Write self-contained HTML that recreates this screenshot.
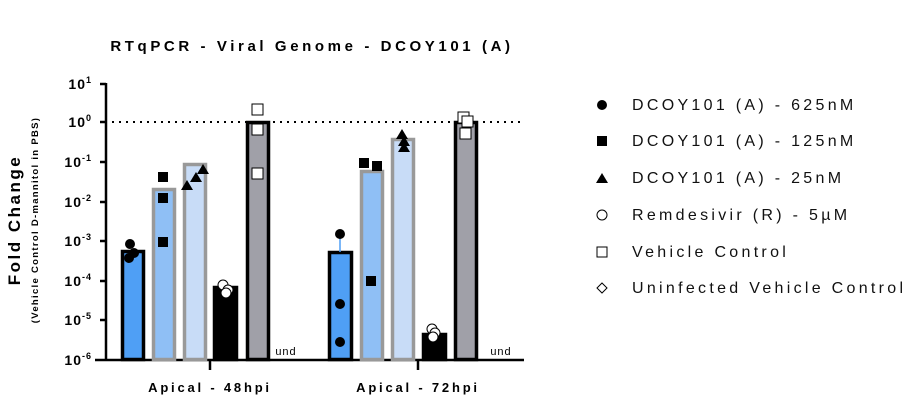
<!DOCTYPE html>
<html><head><meta charset="utf-8"><style>body{margin:0;background:#fff}svg{display:block}</style></head><body>
<svg width="913" height="404" viewBox="0 0 913 404" xmlns="http://www.w3.org/2000/svg" font-family="Liberation Sans, Arial, sans-serif">
<rect width="913" height="404" fill="#fff"/>
<text x="312" y="51" text-anchor="middle" font-size="15" font-weight="bold" letter-spacing="3.6">RTqPCR - Viral Genome - DCOY101 (A)</text>
<text transform="translate(20,220) rotate(-90)" text-anchor="middle" font-size="17" font-weight="bold" letter-spacing="2.5">Fold Change</text>
<text transform="translate(38,220) rotate(-90)" text-anchor="middle" font-size="9.5" font-weight="bold" letter-spacing="1.3">(Vehicle Control D-mannitol in PBS)</text>
<g font-size="14" font-weight="bold" text-anchor="end" letter-spacing="1">
<text x="92" y="89">10<tspan dy="-6" font-size="9">1</tspan></text>
<text x="92" y="127">10<tspan dy="-6" font-size="9">0</tspan></text>
<text x="92" y="167">10<tspan dy="-6" font-size="9">-1</tspan></text>
<text x="92" y="207">10<tspan dy="-6" font-size="9">-2</tspan></text>
<text x="92" y="246">10<tspan dy="-6" font-size="9">-3</tspan></text>
<text x="92" y="286">10<tspan dy="-6" font-size="9">-4</tspan></text>
<text x="92" y="325">10<tspan dy="-6" font-size="9">-5</tspan></text>
<text x="92" y="365">10<tspan dy="-6" font-size="9">-6</tspan></text>
</g>
<g stroke="#000" stroke-width="2.5">
<line x1="106" y1="83" x2="106" y2="361"/>
<line x1="95" y1="360" x2="524" y2="360"/>
<line x1="100" y1="84" x2="106" y2="84"/><line x1="100" y1="122" x2="106" y2="122"/><line x1="100" y1="162" x2="106" y2="162"/><line x1="100" y1="202" x2="106" y2="202"/><line x1="100" y1="241" x2="106" y2="241"/><line x1="100" y1="281" x2="106" y2="281"/><line x1="100" y1="320" x2="106" y2="320"/>
<line x1="210" y1="360" x2="210" y2="370"/><line x1="418" y1="360" x2="418" y2="370"/>
</g>
<line x1="112" y1="122" x2="524" y2="122" stroke="#000" stroke-width="2" stroke-dasharray="2,5"/>
<g stroke-width="3.5">
<rect x="122.5" y="251.5" width="21" height="108" fill="#4f9ff5" stroke="#000"/>
<rect x="153.5" y="189.5" width="21" height="170" fill="#8fbff5" stroke="#999"/>
<rect x="184.5" y="164.5" width="21" height="195" fill="#c8dcf7" stroke="#999"/>
<rect x="214.5" y="287.5" width="22" height="72" fill="#000" stroke="#000"/>
<rect x="247.5" y="122.5" width="21" height="237" fill="#a0a0a8" stroke="#000"/>
<rect x="329.5" y="252.5" width="22" height="107" fill="#4f9ff5" stroke="#000"/>
<rect x="361.5" y="171.5" width="21" height="188" fill="#8fbff5" stroke="#999"/>
<rect x="392.5" y="139.5" width="21" height="220" fill="#c8dcf7" stroke="#999"/>
<rect x="423.5" y="334.5" width="22" height="25" fill="#000" stroke="#000"/>
<rect x="455.5" y="122.5" width="21" height="237" fill="#a0a0a8" stroke="#000"/>
</g>
<line x1="340" y1="238" x2="340" y2="252" stroke="#4f9ff5" stroke-width="1.5"/>
<text x="286" y="355" text-anchor="middle" font-size="11" letter-spacing="1">und</text>
<text x="501" y="355" text-anchor="middle" font-size="11" letter-spacing="1">und</text>
<g fill="#000">
<circle cx="130" cy="244" r="5"/><circle cx="134" cy="253" r="5"/><circle cx="129" cy="258" r="5"/>
<circle cx="340" cy="234" r="5"/><circle cx="340" cy="304" r="5"/><circle cx="340" cy="342" r="5"/>
<rect x="158" y="172" width="10" height="10"/><rect x="158" y="193" width="10" height="10"/><rect x="158" y="237" width="10" height="10"/>
<rect x="359" y="158" width="10" height="10"/><rect x="372" y="161" width="10" height="10"/><rect x="366" y="276" width="10" height="10"/>
<path d="M196 172l6 10h-12z"/><path d="M187 180l6 10h-12z"/><path d="M203 164l6 10h-12z"/>
<path d="M402 129l6 10h-12z"/><path d="M404 136l6 10h-12z"/><path d="M404 142l6 10h-12z"/>
</g>
<g fill="#fff" stroke="#000" stroke-width="1">
<circle cx="223" cy="285" r="5"/><circle cx="228" cy="290" r="5"/><circle cx="226" cy="293" r="5"/>
<circle cx="432" cy="329" r="5"/><circle cx="435" cy="333" r="5"/><circle cx="433" cy="337" r="5"/>
<rect x="252" y="104" width="11" height="11"/><rect x="252" y="124" width="11" height="11"/><rect x="252" y="168" width="11" height="11"/>
<rect x="458" y="112" width="11" height="11"/><rect x="462" y="116" width="11" height="11"/><rect x="460" y="128" width="11" height="11"/>
</g>
<g font-size="13" font-weight="bold" letter-spacing="2.8" text-anchor="middle">
<text x="210" y="392">Apical - 48hpi</text>
<text x="418" y="392">Apical - 72hpi</text>
</g>
<circle cx="602" cy="105" r="5" fill="#000"/>
<rect x="597" y="136" width="10" height="10" fill="#000"/>
<path d="M602 173l6 10h-12z" fill="#000"/>
<circle cx="602" cy="215" r="5" fill="#fff" stroke="#000"/>
<rect x="597" y="247" width="10" height="10" fill="#fff" stroke="#000"/>
<path d="M602 283l5 5l-5 5l-5-5z" fill="#fff" stroke="#000"/>
<g font-size="16" letter-spacing="3.3" fill="#111">
<text x="632" y="110">DCOY101 (A) - 625nM</text>
<text x="632" y="146">DCOY101 (A) - 125nM</text>
<text x="632" y="183">DCOY101 (A) - 25nM</text>
<text x="632" y="220">Remdesivir (R) - 5µM</text>
<text x="632" y="257">Vehicle Control</text>
<text x="632" y="293">Uninfected Vehicle Control</text>
</g>
</svg>
</body></html>
